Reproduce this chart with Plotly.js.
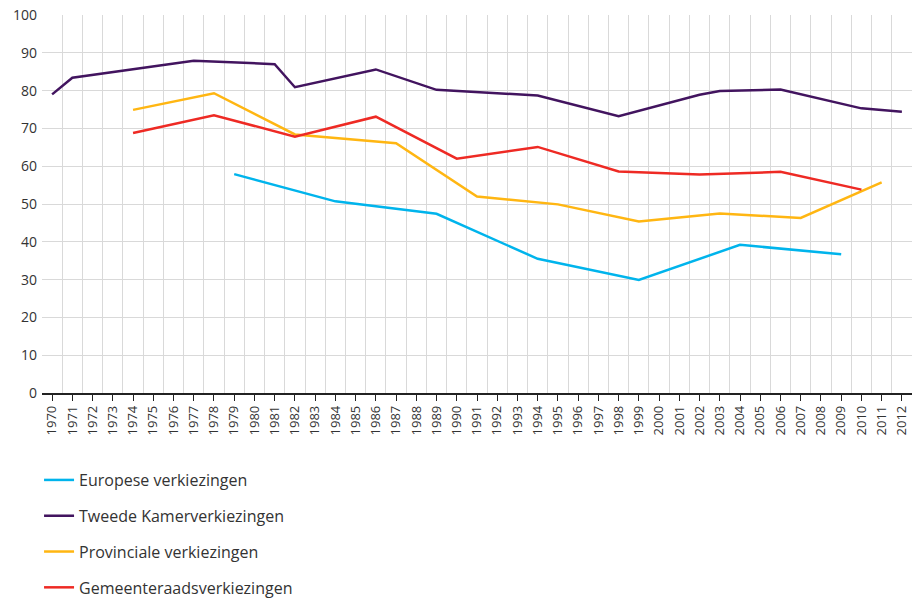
<!DOCTYPE html>
<html>
<head>
<meta charset="utf-8">
<script src="https://cdn.plot.ly/plotly-3.0.1.min.js"></script>
<style>html,body{margin:0;padding:0;background:#fff;}#chart{width:913px;height:599px;}</style>
</head>
<body>
<div id="chart"></div>
<script>
const euYears = [1979, 1984, 1989, 1994, 1999, 2004, 2009];
const euValues = [57.9, 50.7, 47.4, 35.5, 29.9, 39.2, 36.7];

const tkYears = [1970, 1971, 1977, 1981, 1982, 1986, 1989, 1994, 1998, 2002, 2003, 2006, 2010, 2012];
const tkValues = [79.0, 83.4, 87.9, 87.0, 80.9, 85.6, 80.2, 78.7, 73.2, 78.9, 79.9, 80.3, 75.3, 74.4];

const provYears = [1974, 1978, 1982, 1987, 1991, 1995, 1999, 2003, 2007, 2011];
const provValues = [74.9, 79.3, 68.4, 66.1, 52.0, 49.9, 45.4, 47.5, 46.3, 55.7];

const gemYears = [1974, 1978, 1982, 1986, 1990, 1994, 1998, 2002, 2006, 2010];
const gemValues = [68.8, 73.5, 67.8, 73.1, 62.0, 65.1, 58.6, 57.8, 58.5, 53.8];

const seriesNames = ["Europese verkiezingen", "Tweede Kamerverkiezingen", "Provinciale verkiezingen", "Gemeenteraadsverkiezingen"];
const seriesColors = ["#00b4ec", "#42145f", "#ffb612", "#ee2a24"];

const tickYears = [];
for (let y = 1970; y <= 2012; y++) tickYears.push(y);

const xs = [euYears, tkYears, provYears, gemYears];
const ys = [euValues, tkValues, provValues, gemValues];
const traces = xs.map((x, i) => ({
  x: x, y: ys[i], type: "scatter", mode: "lines", name: seriesNames[i],
  legendgroup: "g" + i,
  line: {color: seriesColors[i], width: 2.5}
}));

const layout = {
  width: 913, height: 599,
  margin: {l: 42, r: 1, t: 15, b: 206},
  paper_bgcolor: "#fff", plot_bgcolor: "#fff",
  font: {family: "Open Sans, sans-serif", color: "#333", size: 13},
  showlegend: true,
  legend: {
    orientation: "v", xref: "paper", yref: "container",
    x: -0.0034, xanchor: "left", y: 0.227, yanchor: "top",
    font: {size: 16, color: "#333"}, tracegroupgap: 12, bgcolor: "rgba(0,0,0,0)"
  },
  xaxis: {
    type: "linear", range: [1969.5, 2012.5],
    tickmode: "array", tickvals: tickYears, ticktext: tickYears.map(String),
    tickangle: -90, ticks: "outside", ticklen: 6, tickcolor: "#222", tickwidth: 1,
    showgrid: false, showline: true, linecolor: "#222", linewidth: 1.5,
    zeroline: false, tickfont: {size: 13, color: "#333"},
    minor: {tick0: 1969.5, dtick: 1, showgrid: true, gridcolor: "#d9d9d9", gridwidth: 1, ticks: ""},
    fixedrange: true
  },
  yaxis: {
    range: [0, 100], dtick: 10, tick0: 0,
    showgrid: true, gridcolor: "#d9d9d9", gridwidth: 1,
    zeroline: false, showline: false, ticks: "",
    tickfont: {size: 14, color: "#333"}, ticklabelstandoff: 4,
    fixedrange: true
  }
};

Plotly.newPlot("chart", traces, layout, {displayModeBar: false, staticPlot: true});
</script>
</body>
</html>
